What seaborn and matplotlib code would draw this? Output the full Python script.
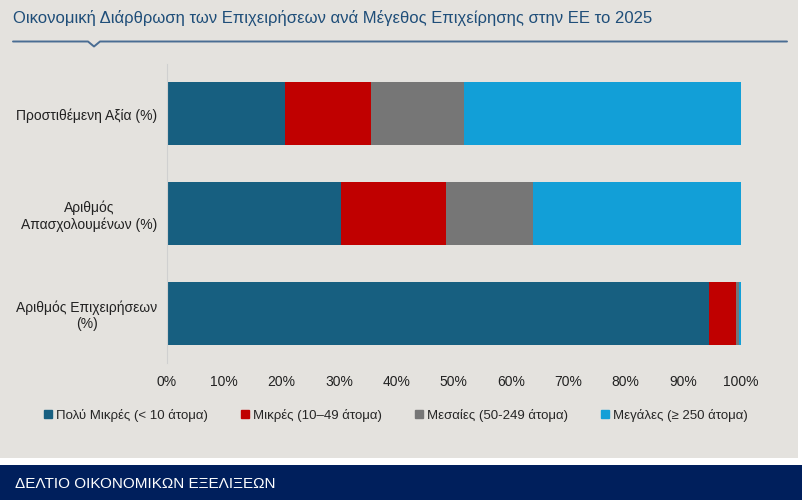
import pandas as pd
import numpy as np
import seaborn as sns
import matplotlib.pyplot as plt
from matplotlib.patches import Rectangle
from matplotlib.lines import Line2D

# --- data ---
categories = ["Προστιθέμενη Αξία (%)", "Αριθμός\nΑπασχολουμένων (%)", "Αριθμός Επιχειρήσεων\n(%)"]
series_names = ["Πολύ Μικρές (< 10 άτομα)", "Μικρές (10–49 άτομα)", "Μεσαίες (50-249 άτομα)", "Μεγάλες (≥ 250 άτομα)"]
micro = [20.6, 30.4, 94.5]
small = [15.0, 18.3, 4.7]
medium = [16.2, 15.1, 0.6]
large = [48.2, 36.2, 0.2]
xticks = [0, 10, 20, 30, 40, 50, 60, 70, 80, 90, 100]

colors = ["#175f80", "#c00000", "#767676", "#129fd7"]
bg = "#e4e2de"

sns.set_theme(style="white")
plt.rcParams['font.family'] = ['Liberation Sans', 'DejaVu Sans']

df = pd.DataFrame({"cat": categories, "s1": micro, "s2": small, "s3": medium, "s4": large})
cols = ["s1", "s2", "s3", "s4"]
cum = df[cols].cumsum(axis=1)

fig = plt.figure(figsize=(8.03, 5.0), dpi=100)
fig.patch.set_facecolor("white")
# grey panel and navy footer band (behind the axes)
fig.patches.append(Rectangle((0, 1 - 458 / 500), 798 / 803, 458 / 500, transform=fig.transFigure,
                             facecolor=bg, edgecolor="none", zorder=-5))
fig.patches.append(Rectangle((0, 0), 1, 35 / 500, transform=fig.transFigure,
                             facecolor="#001f5c", edgecolor="none", zorder=-5))

ax = fig.add_axes([166.8 / 803, 1 - 363 / 500, (740.5 - 166.8) / 803, 299 / 500])
ax.patch.set_alpha(0)

# stacked bars: draw largest cumulative first
for i in range(3, -1, -1):
    sns.barplot(x=cum[cols[i]], y=df["cat"], orient="h", color=colors[i],
                width=0.63, saturation=1, ax=ax, edgecolor="none")

ax.set_xlim(0, 100)
ax.set_ylim(2.5, -0.5)
ax.set_xticks(xticks)
ax.set_xticklabels([f"{v}%" for v in xticks], fontsize=10, color="#222222")
ax.set_xlabel("")
ax.set_ylabel("")
ax.tick_params(axis="x", length=0, pad=9)
ax.tick_params(axis="y", length=0, pad=7)
for lab in ax.get_yticklabels():
    lab.set_multialignment("center")
    lab.set_fontsize(10)
    lab.set_color("#222222")
for s in ["top", "right", "bottom"]:
    ax.spines[s].set_visible(False)
ax.spines["left"].set_color("#d0d0d0")
ax.spines["left"].set_linewidth(0.8)

# title and rule with small chevron
fig.text(13 / 803, 1 - 18 / 500, "Οικονομική Διάρθρωση των Επιχειρήσεων ανά Μέγεθος Επιχείρησης στην ΕΕ το 2025",
         fontsize=12, color="#1f4e79", va="center", ha="left")
rx = np.array([13, 88, 94, 100, 787]) / 803
ry = 1 - np.array([41.5, 41.5, 46.5, 41.5, 41.5]) / 500
fig.add_artist(Line2D(rx, ry, transform=fig.transFigure, color="#4a6d93", lw=1.4))

# legend
handles = [Line2D([], [], marker="s", linestyle="none", markersize=6, color=c) for c in colors]
fig.legend(handles, series_names, loc="center", bbox_to_anchor=(396 / 803, 1 - 415 / 500), ncol=4,
           frameon=False, handlelength=0.6, handletextpad=0.3, columnspacing=2.5,
           prop={'family': ['Liberation Sans', 'DejaVu Sans'], 'size': 9.5})

fig.text(15 / 803, 1 - 484 / 500, "ΔΕΛΤΙΟ ΟΙΚΟΝΟΜΙΚΩΝ ΕΞΕΛΙΞΕΩΝ", color="white", fontsize=11,
         va="center", ha="left")

fig.savefig("out.png", dpi=100)
